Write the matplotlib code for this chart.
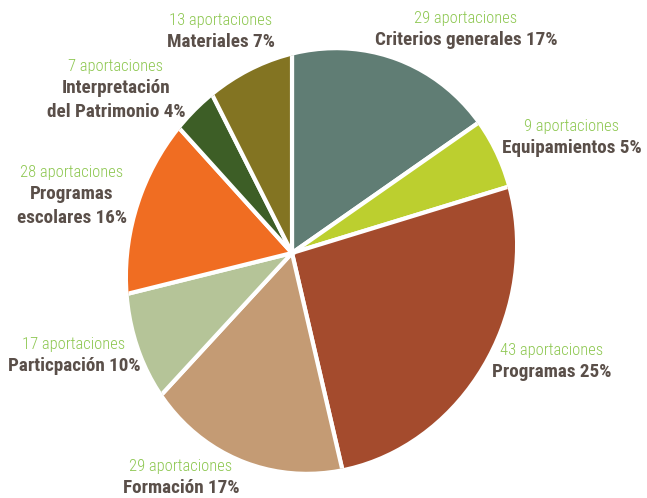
import numpy as np
import matplotlib.pyplot as plt
from matplotlib import font_manager
from matplotlib.patches import Ellipse
from matplotlib.transforms import Affine2D

# datos
categorias = ['Criterios generales', 'Equipamientos', 'Programas', 'Formación',
              'Particpación', 'Programas\nescolares', 'Interpretación\ndel Patrimonio',
              'Materiales']
aportaciones = [29, 9, 43, 29, 17, 28, 7, 13]

colores = ['#607d74', '#bccf2f', '#a44b2d', '#c49b74',
           '#b5c498', '#f06d22', '#3d5e26', '#837422']

# posiciones de las etiquetas (px, origen arriba a la izquierda)
pos_etiquetas = [(466, 18), (572, 126), (552, 350), (181, 466),
                 (74, 344), (72, 172), (116, 66), (221, 20)]

W, H = 647, 498
fig = plt.figure(figsize=(W / 100, H / 100), dpi=100)
ax = fig.add_axes([0, 0, 1, 1])

wedges, _ = ax.pie(aportaciones, colors=colores, startangle=90, counterclock=False,
                   center=(0, 0), radius=300, frame=True,
                   wedgeprops=dict(edgecolor='white', linewidth=3))

# la tarta del original está deformada: cizalla + borde elíptico
cizalla = Affine2D(np.array([[1.0, 0.0, 292.0],
                             [0.0876, 1.044, H - 253.0],
                             [0.0, 0.0, 1.0]]))
borde = Ellipse((321.5, H - 261), 381, 427, angle=-20.7,
                facecolor='none', edgecolor='none')
ax.add_patch(borde)
for w in wedges:
    w.set_transform(cizalla + ax.transData)
    w.set_clip_on(True)
    w.set_clip_path(borde)

ax.set_xlim(0, W)
ax.set_ylim(0, H)
ax.set_aspect('auto')
ax.axis('off')

# fuente: la más estrecha disponible
nombres_fuentes = {f.name for f in font_manager.fontManager.ttflist}
fuente = 'DejaVu Sans'
for f in ['Roboto Condensed', 'Liberation Sans Narrow', 'Roboto', 'Liberation Sans']:
    if f in nombres_fuentes:
        fuente = f
        break
fuente = [fuente, 'DejaVu Sans']

# ajustar tamaño para que el ancho coincida con el original
r = fig.canvas.get_renderer()
p1 = ax.text(0, 0, '29 aportaciones', fontsize=10, family=fuente, fontweight='light')
p2 = ax.text(0, 0, 'Criterios generales 17%', fontsize=10, family=fuente, fontweight='bold')
t1 = 10 * 103 / p1.get_window_extent(r).width
t2 = 10 * 183 / p2.get_window_extent(r).width
p1.remove()
p2.remove()

total = sum(aportaciones)
for nombre, n, (x, y) in zip(categorias, aportaciones, pos_etiquetas):
    pct = round(100 * n / total)
    ax.text(x, H - y, f'{n} aportaciones', ha='center', va='center',
            fontsize=t1, color='#8dc750', family=fuente, fontweight='light')
    ax.text(x, H - y - 13, f'{nombre} {pct}%', ha='center', va='top',
            fontsize=t2, color='#5a4f49', fontweight='bold', family=fuente,
            linespacing=1.4)

fig.savefig('out.png', dpi=100)
